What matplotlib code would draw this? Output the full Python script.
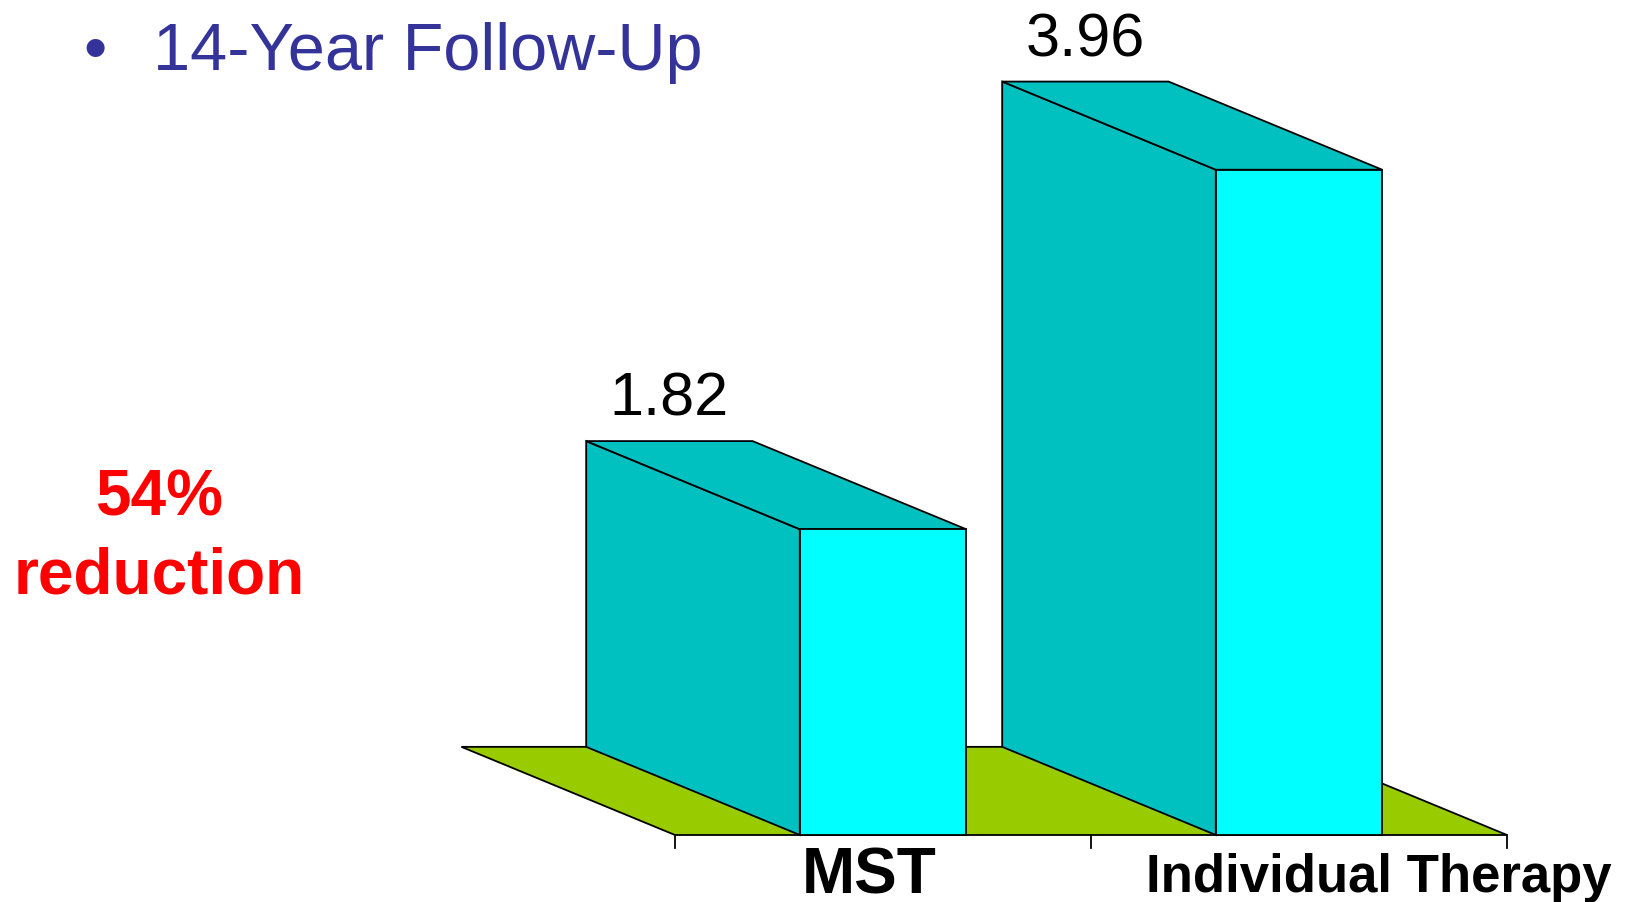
import numpy as np
import matplotlib.pyplot as plt
from matplotlib.patches import Polygon

plt.rcParams['font.family'] = ['Liberation Sans', 'DejaVu Sans']

categories = ['MST', 'Individual Therapy']
values = [1.82, 3.96]
value_labels = ['1.82', '3.96']
title = '14-Year Follow-Up'
note = ['54%', 'reduction']

front_col = '#00FFFF'
side_col = '#00C0C0'
floor_col = '#99CC00'

W, H = 1626, 903
fig = plt.figure(figsize=(W / 100, H / 100), dpi=100)
ax = fig.add_axes([0, 0, 1, 1])

# front-left floor corner in pixels, and pixels per unit on each axis
x0, y0 = 675, 67
ux, uy = 416, 168
ax.set_xlim(-x0 / ux, (W - x0) / ux)
ax.set_ylim(-y0 / uy, (H - y0) / uy)
ax.axis('off')

# oblique depth offset (back is up and to the left)
dx, dy = -0.5135, 0.5247
bw = 0.40
lw = 1.3
n = len(categories)

# floor
floor = Polygon([(0, 0), (n, 0), (n + dx, dy), (dx, dy)], closed=True,
                facecolor=floor_col, edgecolor='black', lw=lw, zorder=1)
ax.add_patch(floor)
for i in range(n + 1):
    ax.plot([i, i], [0, -0.075], color='black', lw=lw, zorder=1)

# bars
for i, (v, lbl) in enumerate(zip(values, value_labels)):
    c = i + 0.5
    xl, xr = c - bw / 2, c + bw / 2
    side = [(xl, 0), (xl, v), (xl + dx, v + dy), (xl + dx, dy)]
    top = [(xl, v), (xr, v), (xr + dx, v + dy), (xl + dx, v + dy)]
    front = [(xl, 0), (xr, 0), (xr, v), (xl, v)]
    for pts, fc in [(side, side_col), (top, side_col), (front, front_col)]:
        ax.add_patch(Polygon(pts, closed=True, facecolor=fc,
                             edgecolor='black', lw=lw, zorder=2 + i,
                             joinstyle='miter'))
    ax.annotate(lbl, xy=(c + dx, v + dy), xytext=(0, 19),
                textcoords='offset points', ha='center', va='baseline',
                fontsize=44, color='black', zorder=5)

# category labels
fig.text(869 / W, 1 - 894 / H, categories[0], ha='center', va='baseline',
         fontsize=46, fontweight='bold', color='black')
fig.text(1379 / W, 1 - 892 / H, categories[1], ha='center', va='baseline',
         fontsize=38, fontweight='bold', color='black')

# heading with bullet
fig.text(95 / W, 1 - 70 / H, '\u2022', ha='center', va='baseline',
         fontsize=48, color='#333399')
fig.text(153 / W, 1 - 70 / H, title, ha='left', va='baseline',
         fontsize=48, color='#333399')

# side note
fig.text(159 / W, 1 - 515 / H, note[0], ha='center', va='baseline',
         fontsize=46, fontweight='bold', color='#FF0000')
fig.text(159 / W, 1 - 593 / H, note[1], ha='center', va='baseline',
         fontsize=46, fontweight='bold', color='#FF0000')

fig.savefig('out.png', dpi=100)
